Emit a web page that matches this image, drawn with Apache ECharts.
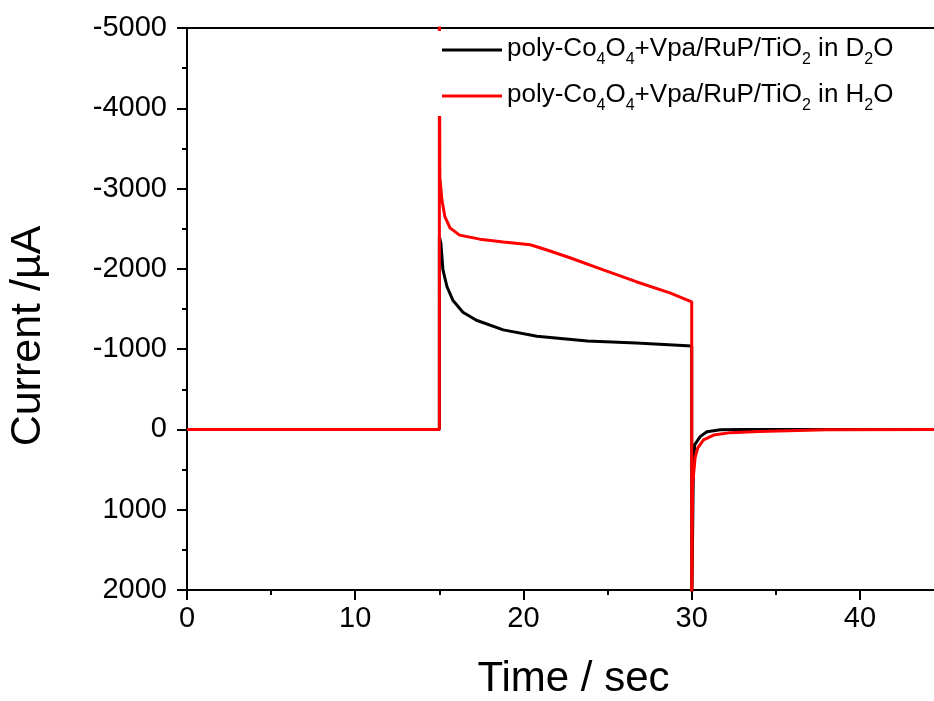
<!DOCTYPE html>
<html>
<head>
<meta charset="utf-8">
<script src="https://cdn.jsdelivr.net/npm/echarts@6/dist/echarts.min.js"></script>
<style>
  html, body { margin: 0; padding: 0; background: #fff; }
  #chart { width: 934px; height: 701px; }
</style>
</head>
<body>
<div id="chart"></div>
<script>
// D2O 曲线 (time s, current uA; negative = up on the inverted axis)
var timeD2O = [0, 15, 15, 15.09, 15.21, 15.45, 15.8, 16.4, 17.2, 18.8, 20.8, 23.8, 26.7, 30,
    30, 30.1, 30.18, 30.5, 30.9, 31.7, 33, 44.4];
var currentD2O = [0, 0, -2400, -2320, -1990, -1780, -1610, -1460, -1360, -1240, -1160, -1100, -1075, -1040,
    2300, 400, 190, 90, 30, 5, 0, 0];

// H2O 曲线
var timeH2O = [0, 15, 15, 15.03, 15.15, 15.33, 15.63, 16.2, 17.4, 18.8, 20.4, 21.4, 22.8, 24.7, 26.7, 28.7, 30,
    30, 30.05, 30.2, 30.36, 30.7, 31.3, 32.3, 34, 38, 44.4];
var currentH2O = [0, 0, -5500, -3140, -2860, -2650, -2510, -2420, -2370, -2335, -2300, -2235, -2135, -1990, -1840, -1700, -1590,
    2300, 700, 350, 230, 130, 70, 40, 25, 5, 0];

var xTicks = [0, 10, 20, 30, 40];
var xMinorTicks = [5, 15, 25, 35];
var legendNames = ['poly-Co4O4+Vpa/RuP/TiO2 in D2O', 'poly-Co4O4+Vpa/RuP/TiO2 in H2O'];
var legendRich = {
    'poly-Co4O4+Vpa/RuP/TiO2 in D2O': '{n|poly-Co}{s|4}{n|O}{s|4}{n|+Vpa/RuP/TiO}{s|2}{n| in D}{s|2}{n|O}',
    'poly-Co4O4+Vpa/RuP/TiO2 in H2O': '{n|poly-Co}{s|4}{n|O}{s|4}{n|+Vpa/RuP/TiO}{s|2}{n| in H}{s|2}{n|O}'
};

function zipData(xs, ys) {
    var out = [];
    for (var i = 0; i < xs.length; i++) out.push([xs[i], ys[i]]);
    return out;
}

var FONT = 'Liberation Sans, Arial, sans-serif';

function initChart() {
    var myChart = echarts.init(document.getElementById('chart'));
    var option = {
        animation: false,
        backgroundColor: '#fff',
        textStyle: { fontFamily: FONT, color: '#000' },
        grid: { left: 187, right: 0, top: 28, bottom: 111, containLabel: false, outerBoundsMode: 'none' },
        legend: {
            orient: 'vertical',
            left: 437,
            top: 31,
            padding: [5, 12, 2, 5],
            backgroundColor: '#fff',
            itemWidth: 60,
            itemHeight: 3,
            itemGap: 14,
            icon: 'rect',
            data: legendNames,
            formatter: function(name) { return legendRich[name]; },
            textStyle: {
                fontFamily: FONT,
                color: '#000',
                rich: {
                    n: { fontSize: 26, lineHeight: 28, verticalAlign: 'top', fontFamily: FONT, color: '#000' },
                    s: { fontSize: 16, lineHeight: 16, verticalAlign: 'top', padding: [16, 0, 0, 0], fontFamily: FONT, color: '#000' }
                }
            }
        },
        xAxis: [{
            type: 'value',
            position: 'bottom',
            min: 0,
            max: 44.4,
            name: 'Time / sec',
            nameLocation: 'middle',
            nameGap: 68,
            nameTextStyle: { fontSize: 42, fontFamily: FONT, color: '#000', padding: [0, 0, 0, 26] },
            axisLine: { onZero: false, lineStyle: { color: '#000', width: 2 } },
            axisTick: { inside: false, length: 10, customValues: xTicks, lineStyle: { color: '#000', width: 2 } },
            axisLabel: { customValues: xTicks, fontSize: 29, margin: 14, color: '#000', fontFamily: FONT },
            splitLine: { show: false }
        }, {
            // 次刻度
            type: 'value',
            position: 'bottom',
            min: 0,
            max: 44.4,
            axisLine: { show: false, onZero: false },
            axisTick: { inside: false, length: 5, customValues: xMinorTicks, lineStyle: { color: '#000', width: 2 } },
            axisLabel: { show: false },
            splitLine: { show: false }
        }, {
            // 上边框
            type: 'value',
            position: 'top',
            min: 0,
            max: 44.4,
            axisLine: { show: true, onZero: false, lineStyle: { color: '#000', width: 2 } },
            axisTick: { show: false },
            axisLabel: { show: false },
            splitLine: { show: false }
        }],
        yAxis: [{
            type: 'value',
            inverse: true,
            min: -5000,
            max: 2000,
            interval: 1000,
            name: 'Current /\u00b5A',
            nameLocation: 'middle',
            nameGap: 137,
            nameTextStyle: { fontSize: 43, fontFamily: FONT, color: '#000', padding: [0, 54, 0, 0] },
            axisLine: { show: true, onZero: false, lineStyle: { color: '#000', width: 2 } },
            axisTick: { show: true, inside: false, length: 10, lineStyle: { color: '#000', width: 2 } },
            minorTick: { show: true, splitNumber: 2, length: 5, lineStyle: { color: '#000', width: 2 } },
            axisLabel: {
                fontSize: 29, margin: 20, color: '#000', fontFamily: FONT,
                formatter: function(v) { return String(v); }
            },
            splitLine: { show: false }
        }],
        series: [{
            name: legendNames[0],
            type: 'line',
            data: zipData(timeD2O, currentD2O),
            showSymbol: false,
            color: '#000',
            lineStyle: { color: '#000', width: 3 },
            clip: true,
            z: 2
        }, {
            name: legendNames[1],
            type: 'line',
            data: zipData(timeH2O, currentH2O),
            showSymbol: false,
            color: '#f00',
            lineStyle: { color: '#f00', width: 3 },
            clip: true,
            z: 3
        }]
    };
    myChart.setOption(option);
}

initChart();
</script>
</body>
</html>
